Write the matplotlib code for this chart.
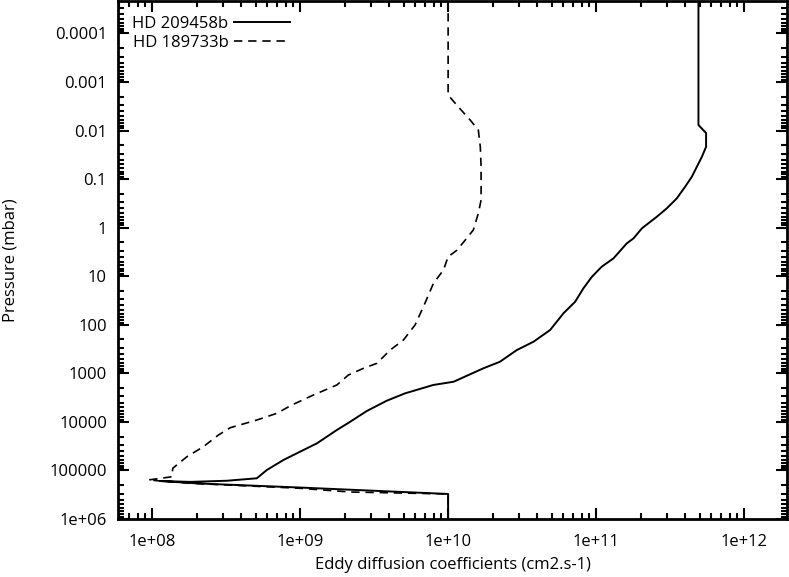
import matplotlib
matplotlib.use("Agg")
import matplotlib.pyplot as plt
from matplotlib.ticker import LogLocator, NullFormatter

plt.rcParams['font.family'] = ['Open Sans', 'DejaVu Sans']

# HD 209458b (solid)
k_209 = [4.91e11, 4.91e11, 5.53e11, 5.53e11, 5.18e11, 4.79e11, 4.43e11, 3.99e11, 3.51e11,
         3.0e11, 2.57e11, 2.04e11, 1.79e11, 1.61e11, 1.31e11, 1.09e11, 9.36e10, 8.2e10,
         7.21e10, 6.01e10, 4.89e10, 3.77e10, 2.91e10, 2.24e10, 1.73e10, 1.09e10, 7.92e9,
         5.12e9, 3.85e9, 2.82e9, 2.18e9, 1.77e9, 1.30e9, 1.0e9, 7.71e8, 5.96e8, 5.1e8,
         3.2e8, 1.81e8, 1.13e8, 2.11e8, 1.0e9, 1.0e10, 1.0e10]
p_209 = [1e-5, 7.7e-3, 1.13e-2, 2.16e-2, 3.48e-2, 5.58e-2, 8.96e-2, 0.144, 0.249,
         0.401, 0.597, 1.03, 1.66, 2.11, 4.29, 6.38, 10.3, 17.8,
         33.6, 58.2, 128, 224, 332, 577, 789, 1489, 1741,
         2584, 3666, 5977, 9935, 14720, 27620, 41100, 61000, 97900, 1.45e5,
         1.63e5, 1.72e5, 1.65e5, 1.86e5, 2.25e5, 3.05e5, 1.2e6]

# HD 189733b (dashed)
k_189 = [1.0e10, 1.0e10, 1.17e10, 1.41e10, 1.60e10, 1.65e10, 1.67e10, 1.67e10, 1.60e10,
         1.48e10, 1.15e10, 1.0e10, 9.3e9, 7.96e9, 6.81e9, 5.98e9, 4.99e9, 4.06e9, 3.30e9,
         2.68e9, 2.12e9, 1.77e9, 1.23e9, 8.79e8, 6.96e8, 5.1e8, 3.37e8, 2.81e8, 2.22e8,
         1.72e8, 1.38e8, 1.36e8, 9.44e7, 1.81e8, 1.0e9, 2.18e9, 1.0e10, 1.0e10]
p_189 = [1e-5, 1.86e-3, 3.24e-3, 6.1e-3, 9.8e-3, 2.16e-2, 5.58e-2, 0.270, 0.508,
         1.12, 2.9, 3.98, 7.47, 14.0, 42.6, 101, 206, 332, 623,
         789, 1083, 1741, 2798, 4496, 6668, 9160, 13200, 18600, 32500,
         52100, 90300, 1.35e5, 1.57e5, 1.84e5, 2.33e5, 2.78e5, 3.05e5, 1.2e6]

x_ticks = [1e8, 1e9, 1e10, 1e11, 1e12]
x_ticklabels = ['1e+08', '1e+09', '1e+10', '1e+11', '1e+12']
y_ticks = [1e-4, 1e-3, 1e-2, 1e-1, 1, 10, 100, 1000, 1e4, 1e5, 1e6]
y_ticklabels = ['0.0001', '0.001', '0.01', '0.1', '1', '10', '100', '1000',
                '10000', '100000', '1e+06']

fig = plt.figure(figsize=(7.89, 5.77), dpi=100)
ax = fig.add_axes([0.1496, 0.1005, 0.848, 0.897])

ax.plot(k_209, p_209, color='black', lw=1.4, label='HD 209458b')
ax.plot(k_189, p_189, color='black', lw=1.2, dashes=(5, 3.5), label='HD 189733b')

ax.set_xscale('log')
ax.set_yscale('log')
ax.set_xlim(5.89e7, 1.95e12)
ax.set_ylim(1e6, 2.2e-5)

ax.set_xticks(x_ticks)
ax.set_xticklabels(x_ticklabels)
ax.set_yticks(y_ticks)
ax.set_yticklabels(y_ticklabels)
ax.xaxis.set_minor_locator(LogLocator(base=10, subs=range(2, 10), numticks=50))
ax.yaxis.set_minor_locator(LogLocator(base=10, subs=range(2, 10), numticks=50))
ax.xaxis.set_minor_formatter(NullFormatter())
ax.yaxis.set_minor_formatter(NullFormatter())

ax.tick_params(which='both', direction='in', top=True, right=True, labelsize=12,
               width=1.5, colors='black')
ax.tick_params(which='major', length=8)
ax.tick_params(which='minor', length=4)
ax.tick_params(axis='x', which='major', pad=11)
ax.tick_params(axis='y', which='major', pad=8)
for s in ax.spines.values():
    s.set_linewidth(2)

ax.set_xlabel('Eddy diffusion coefficients (cm2.s-1)', fontsize=12, labelpad=5)
ax.set_ylabel('Pressure (mbar)', fontsize=12, labelpad=22)

leg = ax.legend(loc='upper left', bbox_to_anchor=(0.004, 0.995), frameon=False,
                markerfirst=False, fontsize=12, handlelength=3.4, handletextpad=0.3,
                labelspacing=0.2, borderaxespad=0.3)

fig.savefig('out.png', dpi=100)
